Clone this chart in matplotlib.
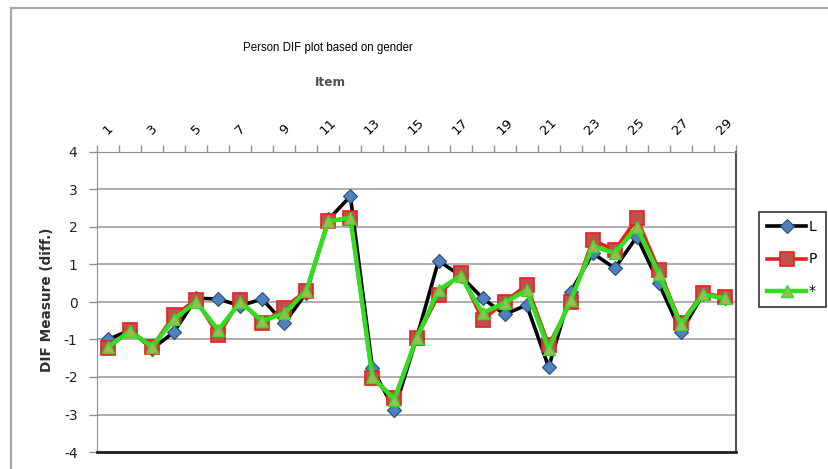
import matplotlib
matplotlib.use("Agg")
from matplotlib import pyplot as plt
from matplotlib.patches import Rectangle
import numpy as np

items = list(range(1, 30))

# DIF measures per item
L_vals = [-1.0, -0.75, -1.25, -0.8, 0.1, 0.08, -0.1, 0.08, -0.57, 0.25,
          2.2, 2.82, -1.77, -2.88, -0.97, 1.1, 0.7, 0.1, -0.33, -0.08,
          -1.74, 0.27, 1.3, 0.9, 1.74, 0.5, -0.8, 0.2, 0.1]
P_vals = [-1.23, -0.75, -1.2, -0.35, 0.05, -0.88, 0.05, -0.57, -0.15, 0.3,
          2.15, 2.23, -2.03, -2.57, -0.97, 0.19, 0.77, -0.48, 0.0, 0.45,
          -1.15, 0.0, 1.65, 1.38, 2.23, 0.85, -0.57, 0.25, 0.12]
S_vals = [-1.2, -0.78, -1.2, -0.45, 0.0, -0.75, 0.0, -0.5, -0.3, 0.3,
          2.15, 2.25, -2.0, -2.6, -0.97, 0.32, 0.7, -0.3, -0.02, 0.32,
          -1.25, 0.05, 1.5, 1.3, 2.0, 0.75, -0.6, 0.2, 0.1]

series_names = ["L", "P", "*"]
y_ticks = list(range(-4, 5))

W, H = 829, 469
fig = plt.figure(figsize=(W / 100, H / 100), dpi=100)

# outer chart border (cropped on right and bottom)
fig.patches.append(Rectangle((11 / W, -0.2), 1.2, 1.2 - 8 / H,
                             transform=fig.transFigure, fill=False,
                             edgecolor="#a8a8a8", lw=1.6))

ax = fig.add_axes([97 / W, 1 - 452 / H, (736 - 97) / W, (452 - 152) / H])

x = np.array(items)
ax.plot(x, L_vals, color="black", lw=2.6, marker="D", ms=7.5,
        mfc="#4f81bd", mec="#2c4d75", mew=0.8, label=series_names[0], zorder=3)
ax.plot(x, P_vals, color="#e8201c", lw=2.6, marker="s", ms=9.5,
        mfc="#c0504d", mec="#e8201c", mew=1.2, label=series_names[1], zorder=4)
ax.plot(x, S_vals, color="#33dd22", lw=3.2, marker="^", ms=8.5,
        mfc="#9bbb59", mec="#33dd22", mew=1.0, label=series_names[2], zorder=5)

ax.set_xlim(0.5, 29.5)
ax.set_ylim(-4, 4)
ax.set_yticks(y_ticks)
ax.set_yticklabels([str(v) for v in y_ticks], fontsize=10, color="#222222")
ax.yaxis.grid(True, color="#a0a0a0", lw=1.2)
ax.set_axisbelow(True)
ax.tick_params(axis="y", length=6, width=1, color="#909090", pad=8)

ax.xaxis.tick_top()
ax.set_xticks(items[::2])
ax.set_xticklabels([str(i) for i in items[::2]], rotation=45, fontsize=9.5,
                   ha="center", va="bottom")
ax.set_xticks(np.arange(0.5, 30, 1.0), minor=True)
ax.tick_params(axis="x", which="major", length=0, pad=11)
ax.tick_params(axis="x", which="minor", length=5, width=1, color="#909090")

ax.spines["top"].set_color("#909090")
ax.spines["left"].set_color("#909090")
ax.spines["bottom"].set_color("#222222")
ax.spines["bottom"].set_linewidth(2)
ax.spines["right"].set_color("#555555")
ax.spines["right"].set_linewidth(1.5)

fig.text(328 / W, 1 - 48 / H, "Person DIF plot based on gender",
         ha="center", va="center", fontsize=8.3, family="Liberation Sans")
fig.text(330 / W, 1 - 82 / H, "Item", ha="center", va="center",
         fontsize=8.7, fontweight="bold", color="#505050")
fig.text(47 / W, 1 - 300 / H, "DIF Measure (diff.)", ha="center",
         va="center", rotation=90, fontsize=9.8, fontweight="bold",
         color="#303030")

leg = fig.legend(loc="upper left", bbox_to_anchor=(759 / W, 1 - 212 / H),
                 handlelength=2.8, handletextpad=0.2, labelspacing=1.3,
                 fontsize=10, frameon=True, fancybox=False,
                 borderpad=0.6, borderaxespad=0)
leg.get_frame().set_edgecolor("black")
leg.get_frame().set_linewidth(1.2)

fig.savefig("out.png", dpi=100)
